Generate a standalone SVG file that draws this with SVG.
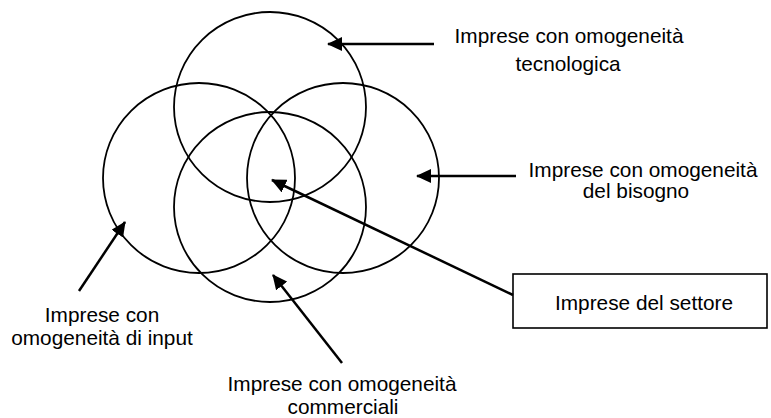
<svg xmlns="http://www.w3.org/2000/svg" width="771" height="418" viewBox="0 0 771 418">
  <style>
    .set { fill: none; stroke: #000; stroke-width: 1.8; }
    .conn { fill: none; stroke: #000; stroke-width: 2.5; marker-end: url(#head); }
    .box { fill: #fff; stroke: #000; stroke-width: 1.6; }
    .lbl { font-family: "Liberation Sans", Arial, Helvetica, sans-serif; font-size: 20.8px; fill: #000; text-anchor: middle; }
  </style>
  <defs>
    <marker id="head" viewBox="0 0 15 14" refX="14" refY="7" markerWidth="15" markerHeight="14" markerUnits="userSpaceOnUse" orient="auto">
      <path d="M0,0 L15,7 L0,14 Z" fill="#000"/>
    </marker>
  </defs>

  <rect x="0" y="0" width="771" height="418" fill="#fff"/>

  <!-- Overlapping sets -->
  <g id="set-tecnologica">
    <ellipse class="set" cx="270" cy="107" rx="96" ry="95"/>
  </g>
  <g id="set-input">
    <ellipse class="set" cx="199" cy="178" rx="96" ry="95"/>
  </g>
  <g id="set-bisogno">
    <ellipse class="set" cx="343" cy="178" rx="96" ry="95"/>
  </g>
  <g id="set-commerciali">
    <ellipse class="set" cx="270" cy="207" rx="96" ry="95"/>
  </g>

  <!-- Labels -->
  <g id="label-tecnologica">
    <text class="lbl" x="569" y="43">Imprese con omogeneità</text>
    <text class="lbl" x="568" y="71">tecnologica</text>
  </g>
  <g id="label-bisogno">
    <text class="lbl" x="643" y="177">Imprese con omogeneità</text>
    <text class="lbl" x="636" y="198">del bisogno</text>
  </g>
  <g id="label-input">
    <text class="lbl" x="102" y="322">Imprese con</text>
    <text class="lbl" x="102" y="345">omogeneità di input</text>
  </g>
  <g id="label-commerciali">
    <text class="lbl" x="342" y="391">Imprese con omogeneità</text>
    <text class="lbl" x="343" y="414">commerciali</text>
  </g>
  <g id="settore">
    <rect class="box" x="513" y="274" width="254" height="54"/>
    <text class="lbl" x="644" y="310">Imprese del settore</text>
  </g>

  <!-- Connectors -->
  <g id="connectors">
    <line class="conn" x1="434" y1="44" x2="328" y2="44"/>
    <line class="conn" x1="516" y1="176" x2="417" y2="176"/>
    <line class="conn" x1="513" y1="295" x2="272" y2="180"/>
    <line class="conn" x1="79" y1="291" x2="125" y2="222"/>
    <line class="conn" x1="342" y1="363" x2="273" y2="275"/>
  </g>
</svg>
